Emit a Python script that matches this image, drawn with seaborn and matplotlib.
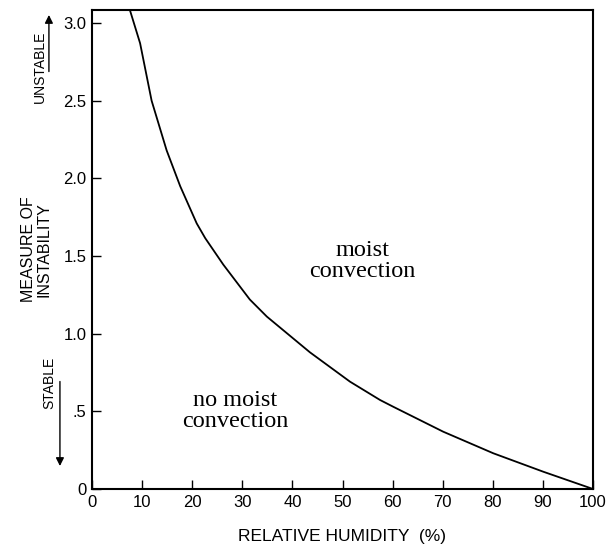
import numpy as np
import pandas as pd
import seaborn as sns
import matplotlib.pyplot as plt

# curve: relative humidity (%) vs measure of instability
rh = [7.6, 9.6, 11.9, 14.9, 17.6, 20.9, 22.6, 26.2, 31.5, 34.9, 43.5, 51.5, 57.5, 60.1, 70.1, 80.1, 90.1, 100.0]
instab = [3.08, 2.87, 2.50, 2.18, 1.95, 1.71, 1.615, 1.445, 1.22, 1.11, 0.88, 0.691, 0.573, 0.530, 0.369, 0.230, 0.111, 0.0]

x_ticks = [0, 10, 20, 30, 40, 50, 60, 70, 80, 90, 100]
y_ticks = [0, 0.5, 1.0, 1.5, 2.0, 2.5, 3.0]
y_ticklabels = ['0', '.5', '1.0', '1.5', '2.0', '2.5', '3.0']

df = pd.DataFrame({'rh': rh, 'instab': instab})

sns.set_style('ticks')
plt.rcParams['font.family'] = ['Liberation Sans', 'DejaVu Sans']
plt.rcParams['text.color'] = 'black'
plt.rcParams['axes.labelcolor'] = 'black'

fig = plt.figure(figsize=(6.1, 5.46), dpi=100)
ax = fig.add_axes([92 / 610, 57 / 546, 501 / 610, 479 / 546])

sns.lineplot(data=df, x='rh', y='instab', color='black', linewidth=1.3,
             estimator=None, sort=False, ax=ax)

ax.set_xlim(0, 100)
ax.set_ylim(0, 3.084)
ax.set_xticks(x_ticks)
ax.set_xticklabels([str(t) for t in x_ticks], fontsize=12)
ax.set_yticks(y_ticks)
ax.set_yticklabels(y_ticklabels, fontsize=12)
ax.tick_params(direction='in', length=6.5, width=1, pad=4, colors='black')
for s in ax.spines.values():
    s.set_linewidth(1.5)
    s.set_color('black')

ax.set_xlabel('RELATIVE HUMIDITY  (%)', fontsize=12.5, va='center')
ax.xaxis.set_label_coords(0.5, -0.1)
ax.set_ylabel('MEASURE OF\nINSTABILITY', fontsize=11.5, linespacing=1.05, va='center')
ax.yaxis.set_label_coords(-0.112, 0.5)

# region labels
serif = ['Liberation Serif', 'DejaVu Serif']
ax.text(53.9, 1.47, 'moist\nconvection', ha='center', va='center',
        fontsize=17.5, family=serif, linespacing=1.0)
ax.text(28.6, 0.5, 'no moist\nconvection', ha='center', va='center',
        fontsize=17.5, family=serif, linespacing=1.0)

# stable / unstable markers beside the y axis
ax.text(-10.5, 2.717, 'UNSTABLE', rotation=90, ha='center', va='center',
        fontsize=10, clip_on=False)
ax.annotate('', xy=(-8.6, 3.07), xytext=(-8.6, 2.67),
            arrowprops=dict(arrowstyle='-|>', color='black', lw=1, mutation_scale=12),
            annotation_clip=False)
ax.text(-8.6, 0.683, 'STABLE', rotation=90, ha='center', va='center',
        fontsize=10, clip_on=False)
ax.annotate('', xy=(-6.4, 0.13), xytext=(-6.4, 0.71),
            arrowprops=dict(arrowstyle='-|>', color='black', lw=1, mutation_scale=12),
            annotation_clip=False)

fig.savefig('out.png', dpi=100)
